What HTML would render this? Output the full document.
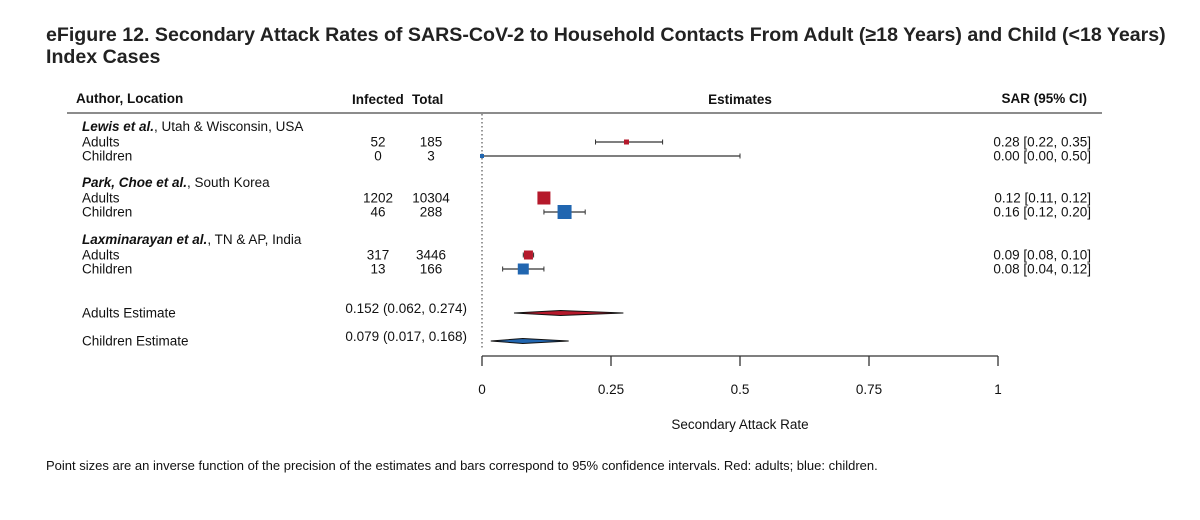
<!DOCTYPE html>
<html><head><meta charset="utf-8"><style>
body{margin:0;background:#fff;width:1200px;height:515px;overflow:hidden;font-family:"Liberation Sans",Arial,sans-serif;}
svg text{font-family:"Liberation Sans",Arial,sans-serif;}
</style></head><body>
<svg width="1200" height="515">
<text x="46" y="41" font-size="19.6" font-weight="bold" fill="#222">eFigure 12. Secondary Attack Rates of SARS-CoV-2 to Household Contacts From Adult (≥18 Years) and Child (&lt;18 Years)</text>
<text x="46" y="63" font-size="19.6" font-weight="bold" fill="#222">Index Cases</text>
<g font-size="13.5" font-weight="bold" fill="#111">
<text x="76" y="103">Author, Location</text>
<text x="352" y="104">Infected</text>
<text x="412" y="104">Total</text>
<text x="740" y="104" text-anchor="middle">Estimates</text>
<text x="1087" y="103" text-anchor="end">SAR (95% CI)</text>
</g>
<line x1="67" y1="113" x2="1102" y2="113" stroke="#666" stroke-width="1.5"/>
<g id="plot"></g>
<text x="46" y="470" font-size="13" fill="#111">Point sizes are an inverse function of the precision of the estimates and bars correspond to 95% confidence intervals. Red: adults; blue: children.</text>
</svg>
<script>
const groupNames = ["Lewis et al.", "Park, Choe et al.", "Laxminarayan et al."];
const groupPlaces = [", Utah & Wisconsin, USA", ", South Korea", ", TN & AP, India"];
const rowLabels = ["Adults","Children","Adults","Children","Adults","Children"];
const infected = [52,0,1202,46,317,13];
const totals = [185,3,10304,288,3446,166];
const est = [0.28,0.00,0.12,0.16,0.09,0.08];
const lo = [0.22,0.00,0.11,0.12,0.08,0.04];
const hi = [0.35,0.50,0.12,0.20,0.10,0.12];
const ptSize = [5,4,13,14,9,11];
const summaryLabels = ["Adults Estimate","Children Estimate"];
const summaryEst = [0.152,0.079];
const summaryLo = [0.062,0.017];
const summaryHi = [0.274,0.168];
const ticks = [0,0.25,0.5,0.75,1];
const tickLabels = ["0","0.25","0.5","0.75","1"];

const NS="http://www.w3.org/2000/svg";
const g=document.getElementById('plot');
const xs=v=>482+v*516;
const groupY=[127,183,240];
const rowY=[142,156,198,212,255,269];
const sumY=[313,341];
const FS=13.5;
function mk(t,a){const e=document.createElementNS(NS,t);for(const k in a)e.setAttribute(k,a[k]);g.appendChild(e);return e;}
function fmt(v){return v.toFixed(2);}

const ref=mk('line',{x1:xs(0),y1:114,x2:xs(0),y2:350,stroke:'#333','stroke-dasharray':'1.5,2.5','stroke-width':1});



groupNames.forEach((n,i)=>{
  const t=mk('text',{x:82,y:groupY[i]+4,'font-size':FS,fill:'#111'});
  t.innerHTML='<tspan font-weight="bold" font-style="italic">'+n+'</tspan>'+groupPlaces[i].replace('&','&amp;');
  
  
});
rowLabels.forEach((l,i)=>{
  const y=rowY[i]+4.5;
  const col=i%2==0?'#b5192b':'#2166b0';
  let t=mk('text',{x:82,y:y,'font-size':FS,fill:'#111'});t.textContent=l;
  
  
  t=mk('text',{x:378,y:y,'font-size':FS,fill:'#111','text-anchor':'middle'});t.textContent=infected[i];
  
  
  t=mk('text',{x:431,y:y,'font-size':FS,fill:'#111','text-anchor':'middle'});t.textContent=totals[i];
  
  
  t=mk('text',{x:1091,y:y,'font-size':FS,fill:'#111','text-anchor':'end'});t.textContent=fmt(est[i])+' ['+fmt(lo[i])+', '+fmt(hi[i])+']';
  
  
  const ln=mk('line',{x1:xs(lo[i]),y1:rowY[i],x2:xs(hi[i]),y2:rowY[i],stroke:'#333','stroke-width':1.2});
  
  
  [lo[i],hi[i]].forEach(v=>{const c=mk('line',{x1:xs(v),y1:rowY[i]-2.5,x2:xs(v),y2:rowY[i]+2.5,stroke:'#333'});
    
    });
  const s=ptSize[i];
  const r=mk('rect',{x:xs(est[i])-s/2,y:rowY[i]-s/2,width:s,height:s,fill:col});
  
  
});
summaryLabels.forEach((l,i)=>{
  const y=sumY[i];
  const col=i==0?'#b5192b':'#2166b0';
  let t=mk('text',{x:82,y:y+4.5,'font-size':FS,fill:'#111'});t.textContent=l;
  
  
  t=mk('text',{x:467,y:y,'font-size':FS,fill:'#111','text-anchor':'end'});t.textContent=summaryEst[i].toFixed(3)+' ('+summaryLo[i].toFixed(3)+', '+summaryHi[i].toFixed(3)+')';
  
  
  const p=mk('polygon',{points:`${xs(summaryLo[i])},${y} ${xs(summaryEst[i])},${y-2.5} ${xs(summaryHi[i])},${y} ${xs(summaryEst[i])},${y+2.5}`,fill:col,stroke:'#111','stroke-width':1});
  
  
});
const ax=mk('line',{x1:xs(0),y1:356,x2:xs(1),y2:356,stroke:'#333','stroke-width':1.3});


ticks.forEach((v,i)=>{
  const tk=mk('line',{x1:xs(v),y1:356,x2:xs(v),y2:366,stroke:'#333','stroke-width':1.3});
  
  
  const t=mk('text',{x:xs(v),y:394,'font-size':FS,fill:'#111','text-anchor':'middle'});t.textContent=tickLabels[i];
  
  
});
const xt=mk('text',{x:740,y:429,'font-size':FS,fill:'#111','text-anchor':'middle'});xt.textContent='Secondary Attack Rate';


</script>
</body></html>
